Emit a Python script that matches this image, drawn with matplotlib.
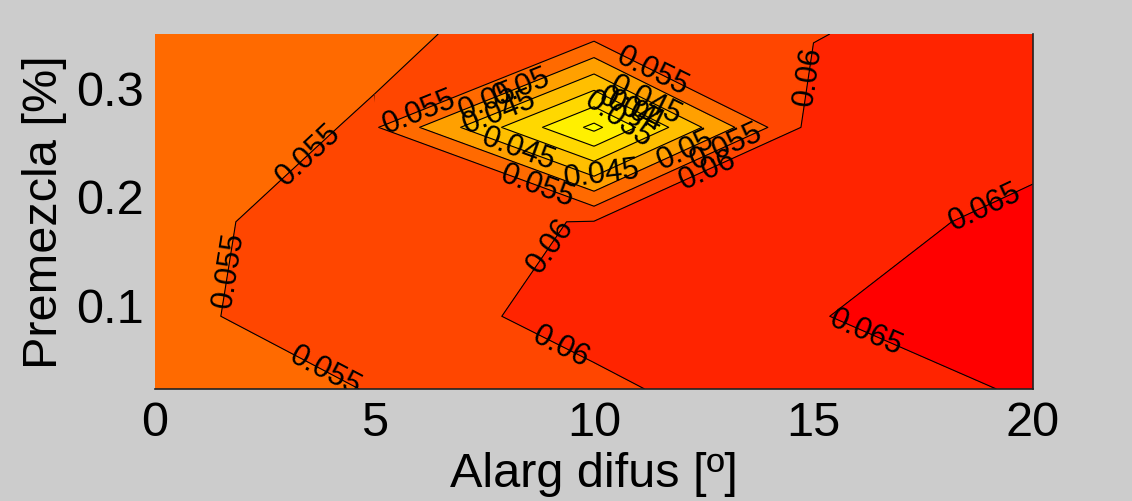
import numpy as np
import matplotlib
matplotlib.use('Agg')
import matplotlib.pyplot as plt
import matplotlib.tri as mtri

plt.rcParams['font.family'] = ['Liberation Sans', 'DejaVu Sans']

# Grid of the data
x_vals = [0, 5, 10, 15, 20]
y_vals = [0.022, 0.089, 0.176, 0.263, 0.349]

# Z values, one row per y value (bottom to top)
z_row0 = [0.0510, 0.0553, 0.0588, 0.0640, 0.0652]
z_row1 = [0.0541, 0.0571, 0.0621, 0.0648, 0.0675]
z_row2 = [0.0529, 0.0586, 0.0602, 0.0633, 0.0660]
z_row3 = [0.0525, 0.0555, 0.0287, 0.0619, 0.0635]
z_row4 = [0.0520, 0.0541, 0.0572, 0.0598, 0.0625]

fill_levels = [0.025, 0.03, 0.035, 0.04, 0.045, 0.05, 0.055, 0.06, 0.065, 0.07]
line_levels = [0.03, 0.035, 0.04, 0.045, 0.05, 0.055, 0.06, 0.065]
band_colors = ['#ffff00', '#fff000', '#ffd800', '#ffbf00', '#ffa000',
               '#ff6a00', '#ff4600', '#ff2400', '#ff0000']

x_ticks = [0, 5, 10, 15, 20]
y_ticks = [0.1, 0.2, 0.3]
x_label = 'Alarg difus [º]'
y_label = 'Premezcla [%]'

# label anchor points (data coords) for the contour labels
label_positions = [
    (3.5, 0.238), (1.8, 0.132), (3.9, 0.040),
    (11.3, 0.312), (13.0, 0.246), (8.6, 0.196),
    (15.0, 0.31), (8.8, 0.16), (9.2, 0.058), (12.6, 0.222),
    (16.3, 0.085), (18.9, 0.19),
    (12.1, 0.24),
    (10.2, 0.218), (11.2, 0.29),
    (8.3, 0.245), (10.8, 0.285),
    (10.9, 0.275), (10.5, 0.266),
]
saddle_label_positions = [(6.0, 0.279), (8.3, 0.306), (7.6, 0.285), (7.9, 0.272)]

fig = plt.figure(figsize=(11.32, 5.02), dpi=100, facecolor='#cccccc')
ax = fig.add_axes([155/1132, 112/502, 878/1132, 355/502])

X, Y = np.meshgrid(x_vals, y_vals)
Z = np.array([z_row0, z_row1, z_row2, z_row3, z_row4])

ax.contourf(X, Y, Z, levels=fill_levels, colors=band_colors, zorder=1)
cs = ax.contour(X, Y, Z, levels=line_levels, colors='black', linewidths=0.8,
                zorder=2)

# The saddle cell (x 5..10, upper row) is resolved the way the original
# plotting program did: the two high corners are joined across the cell.
i0, i1, j0, j1 = 1, 2, 3, 4
sx = [x_vals[i0], x_vals[i1], x_vals[i1], x_vals[i0]]
sy = [y_vals[j0], y_vals[j0], y_vals[j1], y_vals[j1]]
sz = [Z[j0, i0], Z[j0, i1], Z[j1, i1], Z[j1, i0]]
tri = mtri.Triangulation(sx, sy, triangles=[[0, 1, 2], [0, 2, 3]])
ax.tricontourf(tri, sz, levels=fill_levels, colors=band_colors, zorder=2.1,
               antialiased=True)
tcs = ax.tricontour(tri, sz, levels=line_levels, colors='black',
                    linewidths=0.8, zorder=2.2)

fmt = lambda v: f'{v:g}'
ax.clabel(cs, fmt=fmt, manual=label_positions, inline=False,
          fontsize=22, colors='black')
ax.clabel(tcs, fmt=fmt, manual=saddle_label_positions, inline=False,
          fontsize=22, colors='black')

ax.set_xlim(min(x_vals), max(x_vals))
ax.set_ylim(min(y_vals), max(y_vals))
ax.set_xticks(x_ticks)
ax.set_yticks(y_ticks)
ax.set_xticklabels([f'{t:g}' for t in x_ticks])
ax.set_yticklabels([f'{t:g}' for t in y_ticks])
ax.tick_params(direction='in', length=0, labelsize=35, pad=8)
ax.spines['top'].set_visible(False)
ax.spines['left'].set_visible(False)
for side in ('bottom', 'right'):
    ax.spines[side].set_color('#222222')
    ax.spines[side].set_linewidth(1.2)
    ax.spines[side].set_zorder(5)

ax.set_xlabel(x_label, fontsize=35)
ax.set_ylabel(y_label, fontsize=35)
ax.xaxis.set_label_coords(0.5, -0.175)
ax.yaxis.set_label_coords(-0.100, 0.5)

fig.savefig('out.png', dpi=100, facecolor=fig.get_facecolor())
